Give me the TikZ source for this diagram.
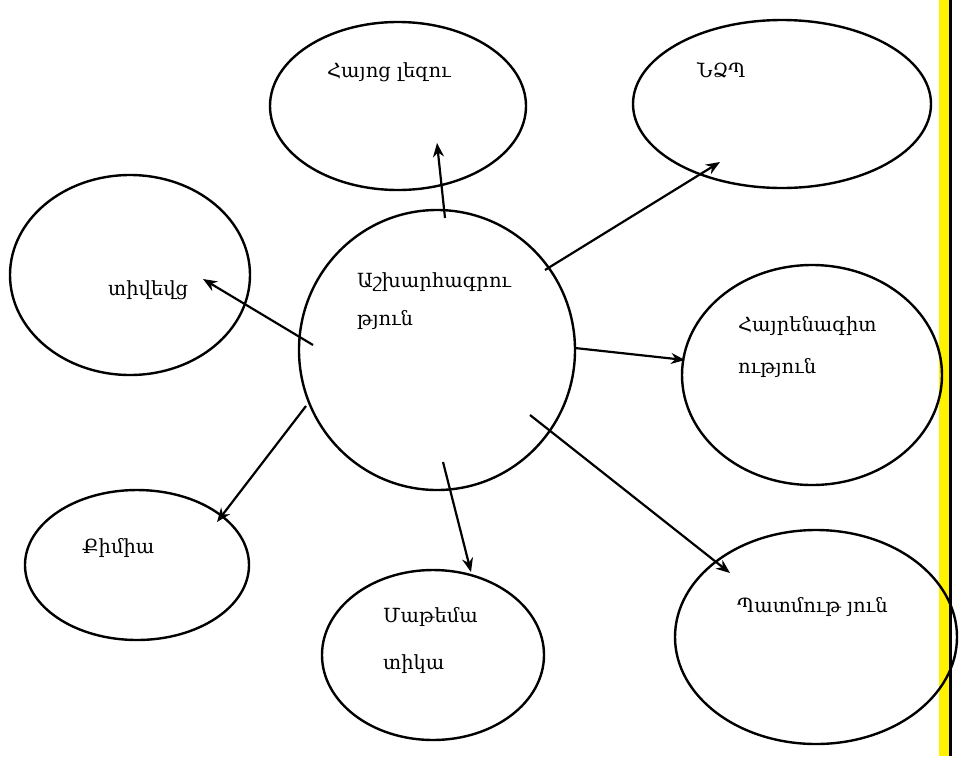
\documentclass[tikz,border=0pt]{standalone}
\usepackage{fontspec}
\setmainfont{DejaVu Serif}
\usetikzlibrary{shapes.geometric,arrows.meta}
\begin{document}
\begin{tikzpicture}[x=1pt,y=-1pt,
  oval/.style={draw=black,line width=2.4pt,ellipse,inner sep=0pt},
  lbl/.style={anchor=west,inner sep=0pt,font=\fontsize{19.5}{38}\selectfont},
  arr/.style={line width=2.2pt,-{Stealth[length=14pt,width=11pt]}}]
\useasboundingbox (0,0) rectangle (973,756);
\fill[white] (0,0) rectangle (973,756);
\fill[yellow] (939,0) rectangle (949,756);
\fill[black] (949,0) rectangle (952,756);
% ellipses
\node[oval,minimum width=256pt,minimum height=168pt] (hl) at (398,106) {};
\node[oval,minimum width=298pt,minimum height=168pt] (nzp) at (782,104) {};
\node[oval,minimum width=240pt,minimum height=200pt] (lf) at (130,275) {};
\node[oval,minimum width=276pt,minimum height=280pt] (ct) at (437,350) {};
\node[oval,minimum width=260pt,minimum height=220pt] (hr) at (812,375) {};
\node[oval,minimum width=224pt,minimum height=150pt] (km) at (137,565) {};
\node[oval,minimum width=222pt,minimum height=170pt] (mt) at (433,655) {};
\node[oval,minimum width=282pt,minimum height=214pt] (pt) at (816,637) {};
% labels
\node[lbl] (thl) at (327,72) {Հայոց լեզու};
\node[lbl] (tnzp) at (697,70) {ՆՁՊ};
\node[lbl] (tlf) at (108,290) {տիվեվց};
\node[lbl] (tct1) at (357,282) {Աշխարհագրու};
\node[lbl] (tct2) at (357,320) {թյուն};
\node[lbl] (thr1) at (738,326) {Հայրենագիտ};
\node[lbl] (thr2) at (738,368) {ություն};
\node[lbl] (tkm) at (82,548) {Քիմիա};
\node[lbl] (tmt1) at (383,617) {Մաթեմա};
\node[lbl] (tmt2) at (383,664) {տիկա};
\node[lbl] (tpt) at (737,607) {Պատմութ յուն};
% arrow ends
\coordinate (s1) at (445,218); \coordinate (e1) at (437,143);
\coordinate (s2) at (545,270); \coordinate (e2) at (720,162);
\coordinate (s3) at (313,345); \coordinate (e3) at (203,279);
\coordinate (s4) at (575,348); \coordinate (e4) at (685,360);
\coordinate (s5) at (306,406); \coordinate (e5) at (217,522);
\coordinate (s6) at (443,462); \coordinate (e6) at (471,572);
\coordinate (s7) at (530,415); \coordinate (e7) at (730,573);
\draw[arr] (s1) -- (e1);
\draw[arr] (s2) -- (e2);
\draw[arr] (s3) -- (e3);
\draw[arr] (s4) -- (e4);
\draw[arr] (s5) -- (e5);
\draw[arr] (s6) -- (e6);
\draw[arr] (s7) -- (e7);
\end{tikzpicture}
\end{document}
